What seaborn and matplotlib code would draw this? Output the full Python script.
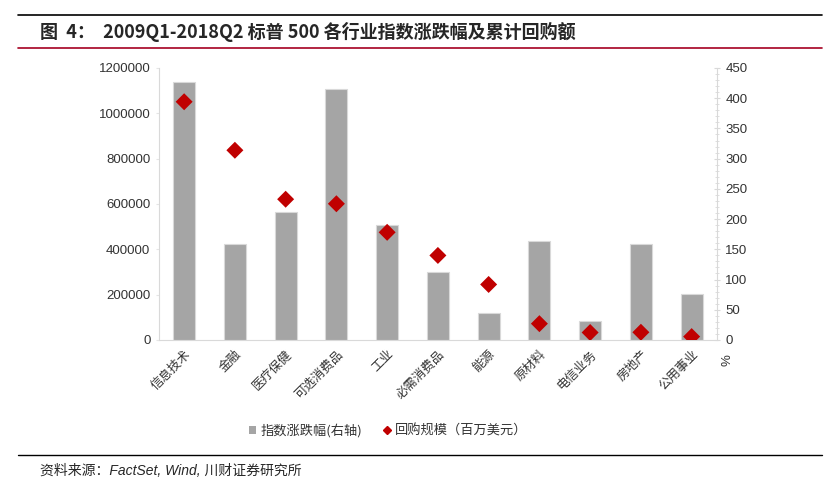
import pandas as pd
import matplotlib.pyplot as plt
import seaborn as sns
from matplotlib.lines import Line2D
from matplotlib.patches import Patch
from matplotlib.ticker import MultipleLocator, FuncFormatter

# data
sectors = ["信息技术", "金融", "医疗保健", "可选消费品", "工业", "必需消费品",
           "能源", "原材料", "电信业务", "房地产", "公用事业"]
index_change = [427, 159, 211, 415, 190, 112, 44, 164, 31, 158, 76]  # %, right axis
buyback = [1051000, 837000, 621000, 601000, 475000, 373000,
           245000, 72000, 33000, 34000, 15000]  # million USD, left axis

df = pd.DataFrame({"sector": sectors, "change": index_change, "buyback": buyback})

sns.set_style("white")
latin = ['Liberation Sans', 'Noto Sans CJK SC']
cjk = ['Noto Sans CJK SC', 'Liberation Sans']
plt.rcParams['font.family'] = latin

fig = plt.figure(figsize=(8.4, 4.88), dpi=100)
ax = fig.add_axes([0.189, 0.3033, 0.6646, 0.5574])

# bars on the right-hand axis
sns.barplot(data=df, x="sector", y="change", color="#A5A5A5", width=0.43,
            edgecolor="#D9D9D9", linewidth=0.8, saturation=1, ax=ax)
ax.set_xlim(-0.5, len(sectors) - 0.5)
ax.set_ylim(0, 450)
ax.yaxis.set_major_locator(MultipleLocator(50))
ax.yaxis.set_minor_locator(MultipleLocator(10))
ax.set_xlabel("")
ax.set_ylabel("")

# diamonds on the left-hand axis
axl = ax.twinx()
sns.scatterplot(data=df, x="sector", y="buyback", marker="D", s=75,
                color="#C00000", edgecolor="none", ax=axl, zorder=5)
axl.set_ylim(0, 1200000)
axl.yaxis.set_major_locator(MultipleLocator(200000))
axl.yaxis.set_major_formatter(FuncFormatter(lambda v, p: f"{int(v)}"))
axl.yaxis.tick_left()
axl.yaxis.set_label_position("left")
axl.set_ylabel("")
axl.set_xlim(-0.5, len(sectors) - 0.5)
ax.yaxis.tick_right()

for a in (ax, axl):
    for s in a.spines.values():
        s.set_visible(False)
ax.spines["bottom"].set_visible(True)
ax.spines["bottom"].set_color("#D9D9D9")
ax.spines["right"].set_visible(True)
ax.spines["right"].set_color("#D9D9D9")
axl.spines["left"].set_visible(True)
axl.spines["left"].set_color("#D9D9D9")

ax.tick_params(axis="y", which="major", left=False, right=True, labelleft=False,
               labelright=True, length=4, color="#D9D9D9",
               direction="inout", labelsize=9.5, labelcolor="#333333", pad=4)
ax.tick_params(axis="y", which="minor", left=False, right=True, length=3,
               color="#D9D9D9", direction="inout")
axl.tick_params(axis="y", left=True, right=False, labelleft=True, labelright=False,
                length=2, color="#E5E5E5", direction="out",
                labelsize=9.5, labelcolor="#333333", pad=4)
for lab in ax.get_yticklabels() + axl.get_yticklabels():
    lab.set_family(latin)
ax.tick_params(axis="x", bottom=False, pad=2)
ax.set_xticks(range(len(sectors)))
ax.set_xticklabels(sectors, rotation=45, ha="right", rotation_mode="anchor",
                   family=cjk, fontsize=9, color="#333333")

fig.text(0.866, 0.262, "%", fontsize=9.5, color="#333333", rotation=90,
         ha="center", va="center")

handles = [Patch(facecolor="#A5A5A5", edgecolor="none", label="指数涨跌幅(右轴)"),
           Line2D([], [], marker="D", color="#C00000", linestyle="none",
                  markersize=4.5, label="回购规模（百万美元）")]
leg = fig.legend(handles=handles, loc="center", bbox_to_anchor=(0.462, 0.118),
                 ncol=2, frameon=False, handlelength=0.55, handleheight=0.55,
                 handletextpad=0.3, columnspacing=1.6,
                 prop={"family": cjk, "size": 9.5})
for t in leg.get_texts():
    t.set_color("#333333")

# header and footer
fig.add_artist(Line2D([0.021, 0.979], [0.969, 0.969], color="black", lw=1.2))
fig.add_artist(Line2D([0.021, 0.979], [0.902, 0.902], color="#A50021", lw=1.2))
fig.text(0.048, 0.934, "图  4：  2009Q1-2018Q2 标普 500 各行业指数涨跌幅及累计回购额",
         family=cjk, fontsize=13, fontweight="bold", va="center", ha="left")
fig.add_artist(Line2D([0.021, 0.979], [0.068, 0.068], color="black", lw=1.0))
fig.text(0.048, 0.035, "资料来源：FactSet, Wind, 川财证券研究所", family=latin,
         fontsize=10, style="italic", va="center", ha="left")

fig.savefig("out.png", dpi=100)
